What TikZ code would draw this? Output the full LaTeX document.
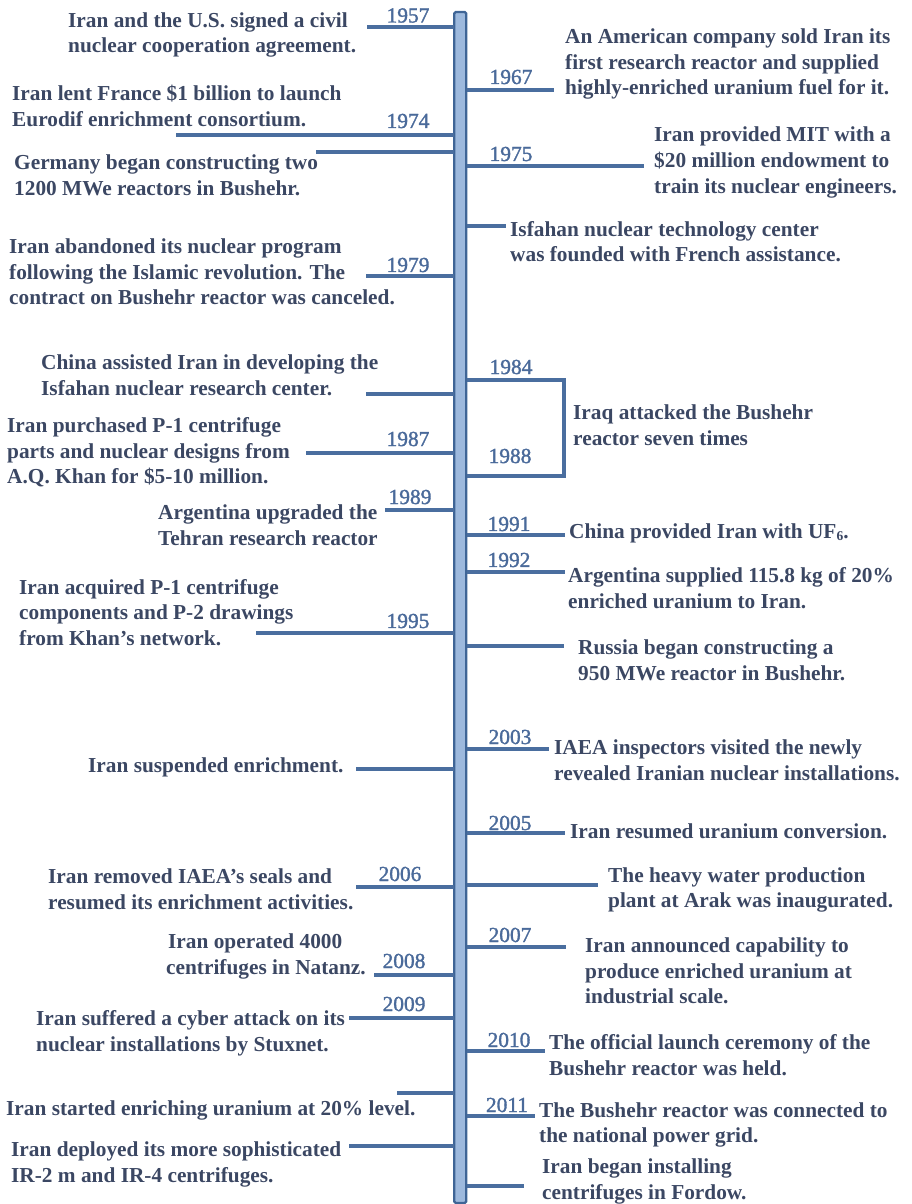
\documentclass[tikz,border=0pt]{standalone}
\usepackage{fontspec}
\setmainfont{Liberation Serif}
\newfontfamily\yrfam{Liberation Serif}[BoldFont=Liberation Serif, BoldFeatures={FakeBold=1.5}]
\definecolor{textc}{HTML}{3B4763}
\definecolor{yearc}{HTML}{4A6A9A}
\definecolor{linec}{HTML}{4A6E9F}
\definecolor{barfill}{HTML}{9DB9DD}
\definecolor{barline}{HTML}{3F6596}
\newcommand\evfont{\fontsize{21.4}{25.8}\selectfont\bfseries}
\newcommand\yrfont{\yrfam\fontsize{21.5}{25}\selectfont\bfseries}
\tikzset{
  ev/.style={font=\evfont, text=textc, align=left, inner sep=0pt, anchor=west},
  yr/.style={font=\yrfont, text=yearc, inner sep=0pt},
  tick/.style={draw=linec, line width=3.1bp},
  barbox/.style={draw=barline, fill=barfill, line width=2.3bp, rounded corners=1.5bp, inner sep=0pt}
}
\begin{document}
\begin{tikzpicture}[x=1bp,y=-1bp]
\useasboundingbox (0,0) rectangle (912,1204);
% central bar
\node[barbox, minimum width=12bp, minimum height=1191bp] (bar) at (460.3,607.5) {};

% ---------- left side ----------
\node[ev] (L1) at (68,35) {Iran and the U.S. signed a civil\\nuclear cooperation agreement.};
\node[ev] (L2) at (12,106) {Iran lent France \$1 billion to launch\\Eurodif enrichment consortium.};
\node[ev] (L3) at (14,175) {Germany began constructing two\\1200 MWe reactors in Bushehr.};
\node[ev] (L4) at (9,272) {Iran abandoned its nuclear program\\following the Islamic revolution. The\\contract on Bushehr reactor was canceled.};
\node[ev] (L5) at (41,375.5) {China assisted Iran in developing the\\Isfahan nuclear research center.};
\node[ev] (L6) at (7,452.5) {Iran purchased P-1 centrifuge\\parts and nuclear designs from\\A.Q. Khan for \$5-10 million.};
\node[ev] (L7) at (158,525.5) {Argentina upgraded the\\Tehran research reactor};
\node[ev] (L8) at (19,612.5) {Iran acquired P-1 centrifuge\\components and P-2 drawings\\from Khan’s network.};
\node[ev] (L9) at (88,767) {Iran suspended enrichment.};
\node[ev] (L10) at (48,889) {Iran removed IAEA’s seals and\\resumed its enrichment activities.};
\node[ev] (L11) at (166,956.5) {\hspace{2bp}Iran operated 4000\\centrifuges in Natanz.};
\node[ev] (L12) at (36,1033.5) {Iran suffered a cyber attack on its\\nuclear installations by Stuxnet.};
\node[ev] (L13) at (6,1110) {Iran started enriching uranium at 20\% level.};
\node[ev] (L14) at (11,1164.5) {Iran deployed its more sophisticated\\IR-2 m and IR-4 centrifuges.};

% left years
\node[yr] (y1957) at (408,15.5) {1957};
\node[yr] (y1974) at (408,121) {1974};
\node[yr] (y1979) at (408,265) {1979};
\node[yr] (y1987) at (408,439) {1987};
\node[yr] (y1989) at (410,497) {1989};
\node[yr] (y1995) at (408,621) {1995};
\node[yr] (y2006) at (400,874) {2006};
\node[yr] (y2008) at (404,961) {2008};
\node[yr] (y2009) at (404,1004) {2009};

% left tick coordinates
\foreach \n/\x/\y in {a/367/27, b/176/135, c/316/152, d/366/276, e/366/394, f/306/453, g/385/510, h/256/633, i/356/769, j/356/887, k/374/975, l/349/1018, m/397/1093, n/349/1146}{
  \coordinate (ls\n) at (\x,\y);
  \coordinate (le\n) at (454,\y);
}
\foreach \n in {a,b,c,d,e,f,g,h,i,j,k,l,m,n}{
  \draw[tick] (ls\n) -- (le\n);
}

% ---------- right side ----------
\node[ev] (R1) at (565,64) {An American company sold Iran its\\first research reactor and supplied\\highly-enriched uranium fuel for it.};
\node[ev] (R2) at (654,162.5) {Iran provided MIT with a\\\$20 million endowment to\\train its nuclear engineers.};
\node[ev] (R3) at (510,241.5) {Isfahan nuclear technology center\\was founded with French assistance.};
\node[ev] (R4) at (573,425) {Iraq attacked the Bushehr\\reactor seven times};
\node[ev] (R5) at (569,533) {China provided Iran with UF{\fontsize{13.5}{13.5}\selectfont\raisebox{-0.35ex}{6}}.};
\node[ev] (R6) at (568,588) {Argentina supplied 115.8 kg of 20\%\\enriched uranium to Iran.};
\node[ev] (R7) at (578,660) {Russia began constructing a\\950 MWe reactor in Bushehr.};
\node[ev] (R8) at (554,760) {IAEA inspectors visited the newly\\revealed Iranian nuclear installations.};
\node[ev] (R9) at (570,831) {Iran resumed uranium conversion.};
\node[ev] (R10) at (608,890) {The heavy water production\\plant at Arak was inaugurated.};
\node[ev] (R11) at (585,971) {Iran announced capability to\\produce enriched uranium at\\industrial scale.};
\node[ev] (R12) at (549,1055) {The official launch ceremony of the\\Bushehr reactor was held.};
\node[ev] (R13) at (539,1125) {The Bushehr reactor was connected to\\the national power grid.};
\node[ev] (R14) at (542,1181.5) {Iran began installing\\centrifuges in Fordow.};

% right years
\node[yr] (y1967) at (511,77) {1967};
\node[yr] (y1975) at (511,154) {1975};
\node[yr] (y1984) at (511,367) {1984};
\node[yr] (y1988) at (510,456) {1988};
\node[yr] (y1991) at (509,524) {1991};
\node[yr] (y1992) at (509,560) {1992};
\node[yr] (y2003) at (510,737) {2003};
\node[yr] (y2005) at (510,823) {2005};
\node[yr] (y2007) at (510,935) {2007};
\node[yr] (y2010) at (509,1040) {2010};
\node[yr] (y2011) at (507,1105) {2011};

% right tick coordinates
\foreach \n/\x/\y in {a/554/90, b/644/166, c/506/226, d/565/535, e/565/572, f/564/646, g/549/749, h/565/833, i/598/885, j/566/947, k/545/1051, l/535/1116, m/524/1186}{
  \coordinate (rs\n) at (467,\y);
  \coordinate (re\n) at (\x,\y);
}
\foreach \n in {a,b,c,d,e,f,g,h,i,j,k,l,m}{
  \draw[tick] (rs\n) -- (re\n);
}
% bracket 1984-1988
\coordinate (bk1) at (467,380);
\coordinate (bk2) at (564,380);
\coordinate (bk3) at (564,476);
\coordinate (bk4) at (467,476);
\draw[tick] (bk1) -- (bk2) -- (bk3) -- (bk4);
\end{tikzpicture}
\end{document}
